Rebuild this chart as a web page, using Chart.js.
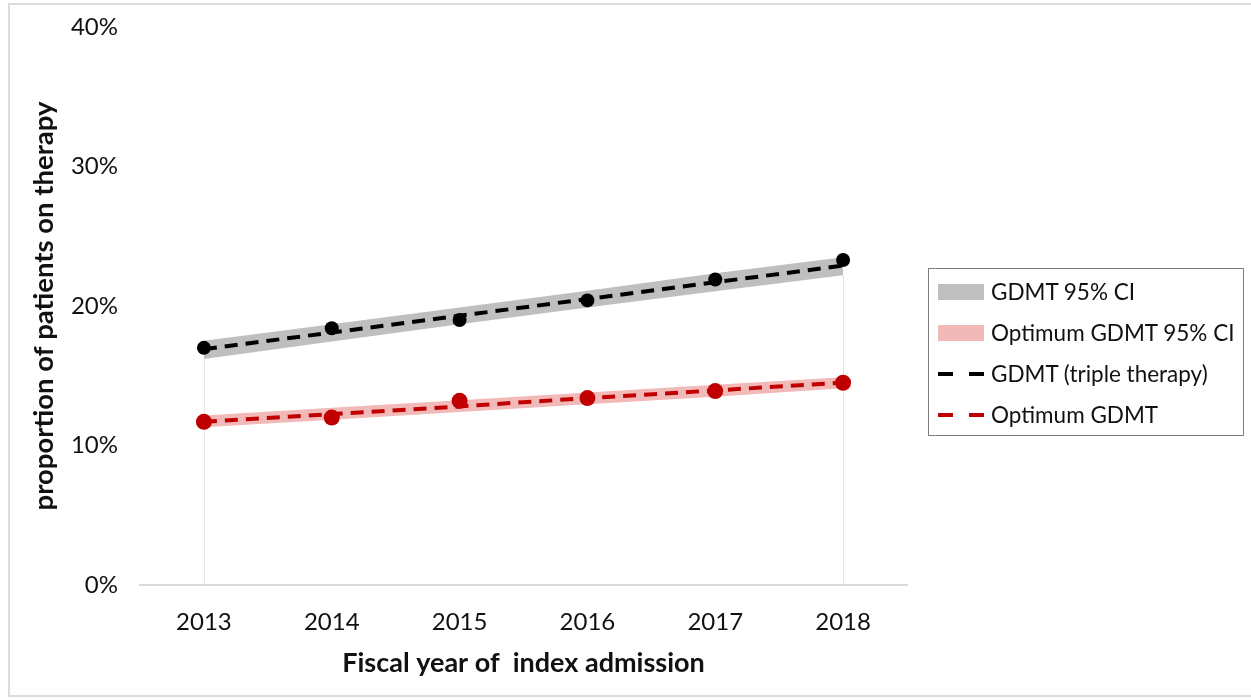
<!DOCTYPE html>
<html>
<head>
<meta charset="utf-8">
<script src="https://cdn.jsdelivr.net/npm/chart.js@4"></script>
<style>
  html, body { margin: 0; padding: 0; background: #fff; }
  #wrap { position: relative; width: 1251px; height: 700px; overflow: hidden; }
  #frame { position: absolute; left: 8px; top: 3px; width: 1260px; height: 694px; border: 2px solid #dcdcdc; box-sizing: border-box; }
  #chart { position: absolute; left: 0; top: 0; }
  #legend {
    position: absolute; left: 928px; top: 268px; width: 316px; height: 168px;
    border: 1.5px solid #7f7f7f; box-sizing: border-box; padding: 2px 0 0 9px;
    font-family: Lato, "Open Sans", sans-serif; font-size: 22.5px; color: #111;
  }
  .item { display: flex; align-items: center; height: 41px; }
  .sw { width: 46px; height: 16px; margin-right: 7px; }
  .dash { width: 46px; height: 4px; margin-right: 7px; display: flex; justify-content: space-between; }
  .dash i { width: 15px; height: 4px; }
</style>
</head>
<body>
<div id="wrap">
  <div id="frame"></div>
  <canvas id="chart" width="1251" height="700"></canvas>
  <div id="legend"></div>
</div>
<script>
// fiscal years on the x axis
const years = ['2013', '2014', '2015', '2016', '2017', '2018'];

// observed proportions (%)
const gdmtObserved = [17.0, 18.4, 19.0, 20.4, 21.9, 23.3];
const optimumObserved = [11.7, 12.0, 13.2, 13.4, 13.9, 14.5];

// fitted trend lines (%)
const gdmtTrend = [16.9, 18.1, 19.3, 20.5, 21.7, 22.9];
const optimumTrend = [11.7, 12.25, 12.8, 13.4, 13.95, 14.5];

// 95% confidence bands around the trends (%)
const gdmtLower = [16.2, 17.45, 18.7, 19.9, 21.05, 22.2];
const gdmtUpper = [17.5, 18.7, 19.9, 21.1, 22.35, 23.5];
const optimumLower = [11.3, 11.85, 12.4, 12.95, 13.5, 14.1];
const optimumUpper = [12.15, 12.7, 13.25, 13.8, 14.35, 14.9];

const yTicks = [0, 10, 20, 30, 40];

const grey = '#bfbfbf';
const pink = '#f2b9b9';
const red = '#c00000';
const font = 'Lato, "Open Sans", sans-serif';

// thin drop lines from the bottom of the GDMT band at the first and last year
const dropLines = {
  id: 'dropLines',
  beforeDatasetsDraw(chart) {
    const { ctx, scales: { x, y } } = chart;
    ctx.save();
    ctx.strokeStyle = '#e4e4e4';
    ctx.lineWidth = 1;
    [0, years.length - 1].forEach(i => {
      const px = Math.round(x.getPixelForValue(i)) + 0.5;
      ctx.beginPath();
      ctx.moveTo(px, y.getPixelForValue(gdmtLower[i]));
      ctx.lineTo(px, y.getPixelForValue(0));
      ctx.stroke();
    });
    ctx.restore();
  }
};

const ctx = document.getElementById('chart').getContext('2d');
const chart = new Chart(ctx, {
  type: 'line',
  data: {
    labels: years,
    datasets: [
      { label: 'gdmtLow', data: gdmtLower, borderWidth: 0, pointRadius: 0, fill: false, order: 10 },
      { label: 'GDMT 95% CI', data: gdmtUpper, borderWidth: 0, pointRadius: 0, backgroundColor: grey, fill: '-1', order: 9 },
      { label: 'optLow', data: optimumLower, borderWidth: 0, pointRadius: 0, fill: false, order: 8 },
      { label: 'Optimum GDMT 95% CI', data: optimumUpper, borderWidth: 0, pointRadius: 0, backgroundColor: pink, fill: '-1', order: 7 },
      { label: 'GDMT (triple therapy)', data: gdmtTrend, borderColor: '#000', borderWidth: 4, borderDash: [13, 8], pointRadius: 0, fill: false, order: 4 },
      { label: 'Optimum GDMT', data: optimumTrend, borderColor: red, borderWidth: 4, borderDash: [13, 8], pointRadius: 0, fill: false, order: 3 },
      { label: 'gdmtPts', data: gdmtObserved, showLine: false, pointRadius: 7, pointBackgroundColor: '#000', pointBorderWidth: 0, order: 2 },
      { label: 'optPts', data: optimumObserved, showLine: false, pointRadius: 8, pointBackgroundColor: red, pointBorderWidth: 0, order: 1 }
    ]
  },
  options: {
    responsive: false,
    animation: false,
    layout: { padding: { top: 27, right: 344, left: 0, bottom: 0 } },
    plugins: { legend: { display: false }, tooltip: { enabled: false } },
    scales: {
      x: {
        offset: true,
        grid: { display: false, drawTicks: false },
        border: { color: '#d9d9d9', width: 2 },
        ticks: { color: '#111', font: { family: font, size: 24 }, padding: 23 },
        title: { display: true, text: 'Fiscal year of  index admission', color: '#111', font: { family: font, size: 27, weight: 'bold' }, padding: { top: 0, bottom: 21 } },
        afterFit(s) { s.height = 115; }
      },
      y: {
        min: 0, max: 40,
        afterBuildTicks(s) { s.ticks = yTicks.map(v => ({ value: v })); },
        grid: { display: false, drawTicks: false },
        border: { display: false },
        ticks: { color: '#111', font: { family: font, size: 24 }, padding: 22, callback: v => v + '%' },
        title: { display: true, text: 'proportion of patients on therapy', color: '#111', font: { family: font, size: 27.5, weight: 'bold' }, padding: { top: 28, bottom: 0 } },
        afterFit(s) {
          s.width = 140;
          // keep the plot top fixed by the layout padding only
          s.paddingTop = 0;
          s.paddingBottom = 0;
        }
      }
    }
  },
  plugins: [dropLines]
});

// legend box built from the datasets that carry a visible entry
const legend = document.getElementById('legend');
[1, 3, 4, 5].forEach(i => {
  const ds = chart.data.datasets[i];
  const row = document.createElement('div');
  row.className = 'item';
  const mark = document.createElement('div');
  if (ds.fill) {
    mark.className = 'sw';
    mark.style.background = ds.backgroundColor;
  } else {
    mark.className = 'dash';
    for (let k = 0; k < 2; k++) {
      const seg = document.createElement('i');
      seg.style.background = ds.borderColor;
      mark.appendChild(seg);
    }
  }
  const txt = document.createElement('span');
  txt.textContent = ds.label;
  row.appendChild(mark);
  row.appendChild(txt);
  legend.appendChild(row);
});
</script>
</body>
</html>
